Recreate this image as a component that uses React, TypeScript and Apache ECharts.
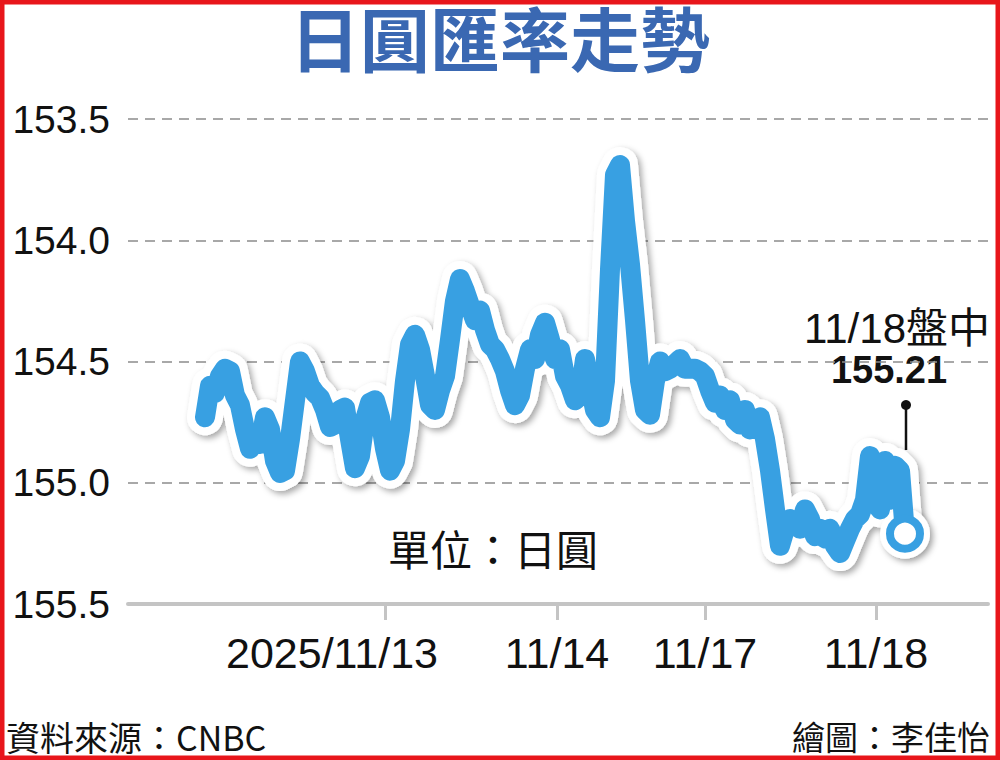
import React, { useEffect, useRef } from "react";
import * as echarts from "echarts";

// USD/JPY intraday values (yen per dollar), 5-px sample spacing
const rateValues: number[] = [
  154.73, 154.60, 154.63, 154.56, 154.53, 154.54, 154.64, 154.68, 154.78, 154.86,
  154.82, 154.84, 154.73, 154.78, 154.91, 154.96, 154.95, 154.82, 154.66, 154.50,
  154.54, 154.60, 154.63, 154.65, 154.70, 154.77, 154.76, 154.70, 154.69, 154.82,
  154.94, 154.89, 154.74, 154.67, 154.66, 154.73, 154.86, 154.95, 154.91, 154.78,
  154.58, 154.43, 154.39, 154.45, 154.56, 154.68, 154.70, 154.62, 154.56, 154.41,
  154.25, 154.16, 154.21, 154.27, 154.33, 154.29, 154.37, 154.43, 154.45, 154.49,
  154.54, 154.62, 154.68, 154.64, 154.53, 154.45, 154.49, 154.39, 154.34, 154.41,
  154.49, 154.45, 154.56, 154.60, 154.66, 154.64, 154.49, 154.60, 154.70, 154.73,
  154.58, 154.12, 153.73, 153.69, 153.92, 154.10, 154.33, 154.58, 154.70, 154.72,
  154.58, 154.50, 154.54, 154.53, 154.51, 154.49, 154.53, 154.53, 154.53, 154.54,
  154.56, 154.62, 154.67, 154.64, 154.70, 154.66, 154.74, 154.76, 154.70, 154.78,
  154.76, 154.73, 154.82, 154.95, 155.11, 155.26, 155.19, 155.15, 155.17, 155.19,
  155.11, 155.15, 155.22, 155.19, 155.23, 155.19, 155.26, 155.29, 155.24, 155.19,
  155.15, 155.13, 155.07, 154.89, 154.95, 155.11, 154.91, 155.07, 154.93, 154.95,
  155.21,
];

// x-axis tick positions (sample index) and their labels
const tickIndex: number[] = [36, 70.4, 100, 134.2];
const tickLabels: string[] = ["2025/11/13", "11/14", "11/17", "11/18"];

// y-axis range (inverted)
const yMin = 153.5;
const yMax = 155.5;
const yStep = 0.5;

const titleText = "日圓匯率走勢";
const unitText = "單位：日圓";
const sourceText = "資料來源：CNBC";
const authorText = "繪圖：李佳怡";
const lastLabel = "11/18盤中";

const BLUE = "#38a0e2";
const LATIN = '"Liberation Sans", Arial, "Noto Sans CJK TC", sans-serif';
const CJK = '"Noto Sans CJK TC", "Liberation Sans", sans-serif';

export default function App() {
  const ref = useRef<HTMLDivElement>(null);

  useEffect(() => {
    if (!ref.current) return;
    const chart = echarts.init(ref.current, undefined, { renderer: "svg" });
    const lineData = rateValues.map((v, i) => [i, v]);
    const lastI = rateValues.length - 1;
    const lastV = rateValues[lastI];

    chart.setOption({
      animation: false,
      backgroundColor: "#ffffff",
      grid: {
        left: 128,
        right: 12,
        top: 119,
        bottom: 156,
        outerBoundsMode: "none",
        containLabel: false,
      },
      xAxis: {
        type: "value",
        min: -15.4,
        max: 156.6,
        splitLine: { show: false },
        axisLine: { show: true, lineStyle: { color: "#c4c4c4", width: 4 } },
        axisTick: {
          show: true,
          customValues: tickIndex,
          length: 16,
          lineStyle: { color: "#c4c4c4", width: 3 },
        },
        axisLabel: {
          show: true,
          customValues: tickIndex,
          margin: 27,
          fontFamily: LATIN,
          fontSize: 43,
          color: "#111",
          formatter: (val: number) => {
            const k = tickIndex.findIndex((t) => Math.abs(t - val) < 1e-6);
            if (k < 0) return "";
            return k === 0 ? tickLabels[k] + "{sp| }" : tickLabels[k];
          },
          rich: { sp: { width: 106, fontSize: 43 } },
        },
      },
      yAxis: {
        type: "value",
        inverse: true,
        min: yMin,
        max: yMax,
        interval: yStep,
        axisLine: { show: false },
        axisTick: { show: false },
        splitLine: {
          show: true,
          lineStyle: { color: "#8c8c8c", width: 1.5, type: [10, 7] },
        },
        axisLabel: {
          margin: 18,
          fontFamily: LATIN,
          fontSize: 39,
          color: "#111",
          formatter: (v: number) => v.toFixed(1),
        },
      },
      series: [
        {
          type: "line",
          data: lineData,
          symbol: "none",
          z: 2,
          lineStyle: {
            color: "#ffffff",
            width: 36,
            cap: "round",
            join: "round",
            shadowColor: "rgba(0,0,0,0.35)",
            shadowBlur: 6,
            shadowOffsetX: 3,
            shadowOffsetY: 3,
          },
        },
        {
          type: "scatter",
          data: [[lastI, lastV]],
          symbolSize: 50,
          z: 2,
          itemStyle: {
            color: "#ffffff",
            opacity: 1,
            shadowColor: "rgba(0,0,0,0.35)",
            shadowBlur: 6,
            shadowOffsetX: 3,
            shadowOffsetY: 3,
          },
        },
        {
          type: "line",
          data: lineData,
          symbol: "none",
          z: 3,
          lineStyle: { color: BLUE, width: 20, cap: "round", join: "round" },
        },
        {
          type: "scatter",
          data: [[lastI, lastV]],
          symbolSize: 30,
          z: 4,
          itemStyle: { color: "#ffffff", opacity: 1, borderColor: BLUE, borderWidth: 8 },
        },
      ],
      graphic: [
        {
          type: "text",
          x: 500,
          y: 36,
          style: {
            text: titleText,
            font: `bold 70px ${CJK}`,
            lineHeight: 56,
            fill: "#3a68b2",
            align: "center",
            verticalAlign: "middle",
          },
        },
        {
          type: "rect",
          shape: { x: 2, y: 2, width: 996, height: 756 },
          style: { fill: "none", stroke: "#e8161b", lineWidth: 5 },
          z: 100,
        },
        {
          type: "text",
          x: 990,
          y: 328,
          style: {
            text: lastLabel,
            font: `42px ${LATIN}`,
            fill: "#111",
            align: "right",
            verticalAlign: "middle",
          },
        },
        {
          type: "text",
          x: 889,
          y: 370,
          style: {
            text: lastV.toFixed(2),
            font: `bold 38px ${LATIN}`,
            fill: "#111",
            align: "center",
            verticalAlign: "middle",
          },
        },
        {
          type: "line",
          shape: { x1: 906, y1: 405, x2: 906, y2: 450 },
          style: { stroke: "#111", lineWidth: 2.5 },
        },
        {
          type: "circle",
          shape: { cx: 906, cy: 405, r: 5 },
          style: { fill: "#111" },
        },
        {
          type: "text",
          x: 493,
          y: 547,
          style: {
            text: unitText,
            font: `42px ${CJK}`,
            fill: "#111",
            align: "center",
            verticalAlign: "middle",
          },
        },
        {
          type: "text",
          x: 6,
          y: 736,
          style: {
            text: sourceText,
            font: `34px ${CJK}`,
            fill: "#111",
            align: "left",
            verticalAlign: "middle",
          },
        },
        {
          type: "text",
          x: 990,
          y: 736,
          style: {
            text: authorText,
            font: `33px ${CJK}`,
            fill: "#111",
            align: "right",
            verticalAlign: "middle",
          },
        },
      ],
    });

    return () => chart.dispose();
  }, []);

  return (
    <div
      ref={ref}
      style={{ position: "absolute", left: 0, top: 0, width: 1000, height: 760 }}
    />
  );
}
